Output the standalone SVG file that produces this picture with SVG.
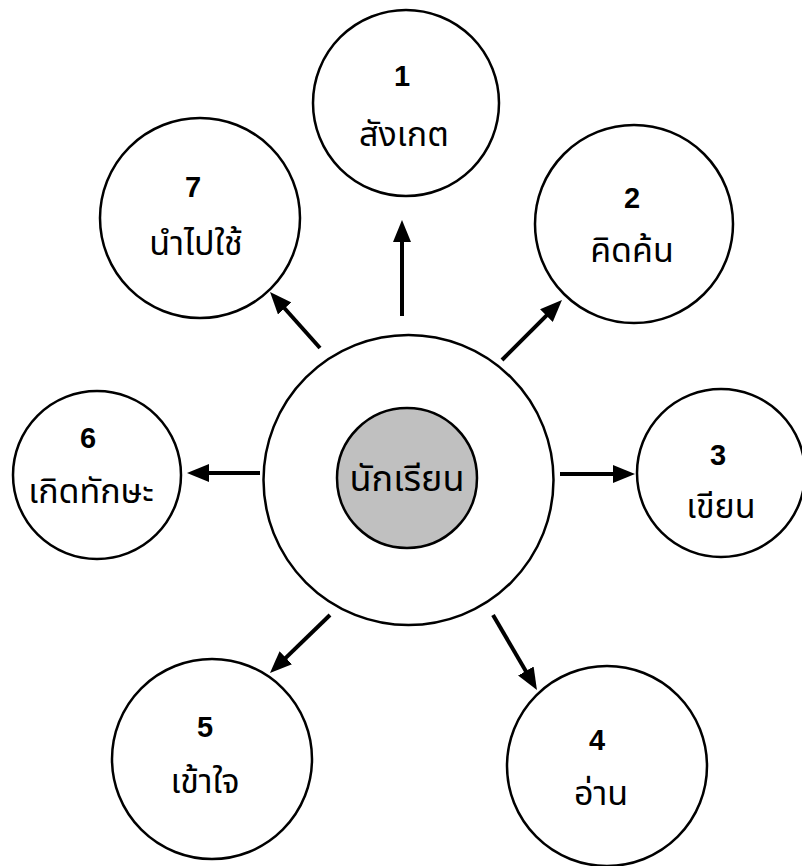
<svg xmlns="http://www.w3.org/2000/svg" width="802" height="866" viewBox="0 0 802 866">
<style>
  .node { fill: #ffffff; stroke: #000000; stroke-width: 2.5; }
  .core { fill: #c0c0c0; stroke: #000000; stroke-width: 2.5; }
  .num { font-family: "Liberation Sans", Arial, sans-serif; font-weight: bold; font-size: 29px; fill: #000; text-anchor: middle; }
  .lbl { font-family: "Noto Sans", "Noto Sans Thai", "Loma", "Garuda", sans-serif; font-size: 34px; fill: #000; text-anchor: middle; }
  .big { font-size: 36px; }
  .conn line { stroke: #000000; stroke-width: 4; marker-end: url(#arrow); }
</style>
<defs>
  <marker id="arrow" markerUnits="userSpaceOnUse" viewBox="0 0 22 18" refX="12" refY="9" markerWidth="22" markerHeight="18" orient="auto">
    <path d="M0,0 L22,9 L0,18 Z" fill="#000000"/>
  </marker>
</defs>
<rect x="0" y="0" width="802" height="866" fill="#ffffff"/>

<g id="center">
  <circle cx="408.5" cy="480" r="145" class="node"/>
  <circle cx="407" cy="478" r="70" class="core"/>
  <text x="407" y="491" class="lbl big">นักเรียน</text>
</g>

<g id="node1">
  <circle cx="406" cy="103" r="93" class="node"/>
  <text x="402" y="86" class="num">1</text>
  <text x="404" y="146" class="lbl">สังเกต</text>
</g>

<g id="node2">
  <circle cx="634" cy="224" r="99" class="node"/>
  <text x="632" y="208" class="num">2</text>
  <text x="632" y="262" class="lbl">คิดค้น</text>
</g>

<g id="node3">
  <circle cx="721" cy="473" r="84" class="node"/>
  <text x="718" y="465" class="num">3</text>
  <text x="721" y="518" class="lbl">เขียน</text>
</g>

<g id="node4">
  <circle cx="607" cy="766" r="100" class="node"/>
  <text x="597" y="750" class="num">4</text>
  <text x="601" y="805" class="lbl">อ่าน</text>
</g>

<g id="node5">
  <circle cx="212" cy="759" r="100" class="node"/>
  <text x="205" y="737" class="num">5</text>
  <text x="205" y="793" class="lbl">เข้าใจ</text>
</g>

<g id="node6">
  <circle cx="97" cy="475" r="84" class="node"/>
  <text x="88" y="448" class="num">6</text>
  <text x="91" y="503" class="lbl">เกิดทักษะ</text>
</g>

<g id="node7">
  <circle cx="200" cy="218" r="100" class="node"/>
  <text x="193" y="197" class="num">7</text>
  <text x="196" y="255" class="lbl">นำไปใช้</text>
</g>

<g id="connectors" class="conn">
  <line x1="402" y1="316" x2="402" y2="230"/>
  <line x1="502" y1="360" x2="554.9" y2="307.1"/>
  <line x1="560" y1="474" x2="625" y2="474"/>
  <line x1="493" y1="615" x2="531.9" y2="681.4"/>
  <line x1="330" y1="615" x2="277.2" y2="666.1"/>
  <line x1="260" y1="473" x2="197" y2="473"/>
  <line x1="320" y1="348" x2="276.7" y2="299.5"/>
</g>
</svg>
